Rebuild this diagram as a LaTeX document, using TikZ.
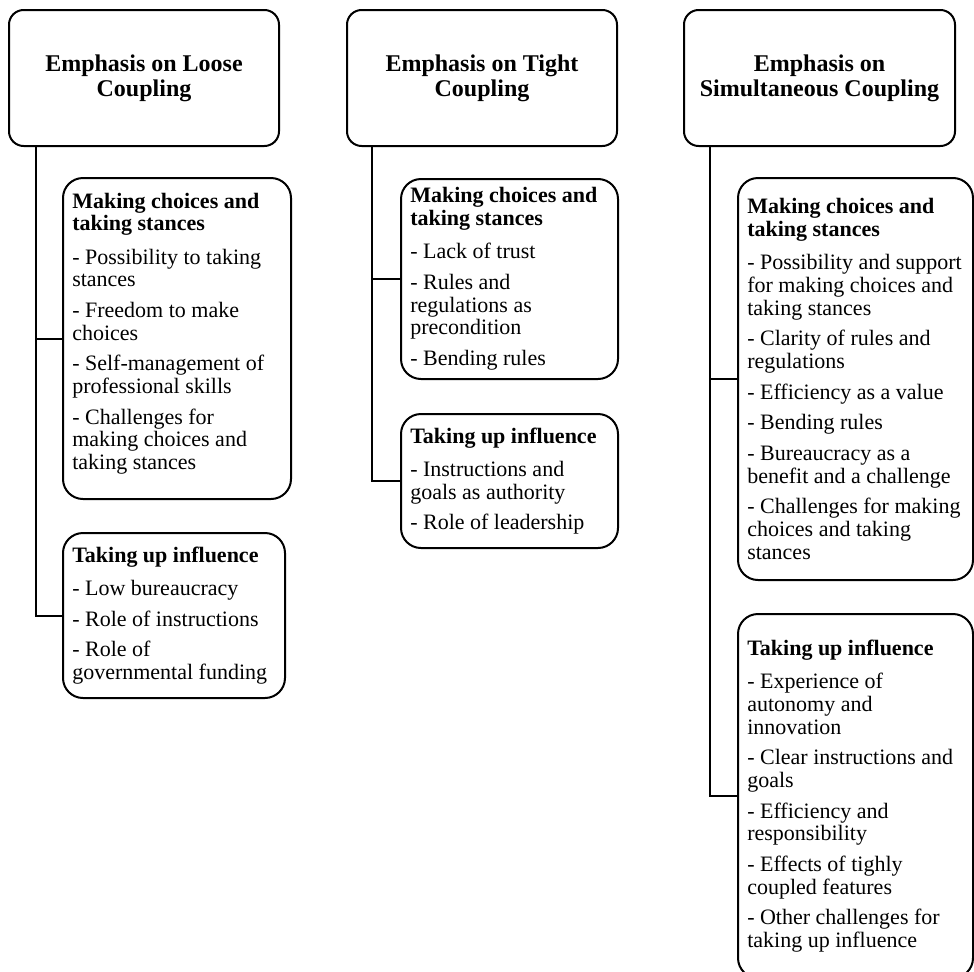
\documentclass[tikz,border=0pt]{standalone}
\usepackage{fontspec}
\setmainfont{Liberation Serif}
\usetikzlibrary{fit}

\tikzset{
    headbox/.style={draw, line width=1.5pt, rounded corners=11pt, inner sep=0pt},
    headtext/.style={inner sep=0pt, align=center, font=\fontsize{18}{19}\selectfont\bfseries},
    subbox/.style={draw, line width=1.5pt, rounded corners=15pt, inner sep=0pt},
    subtext/.style={anchor=west, inner sep=0pt, align=left, font=\fontsize{16.5}{17}\selectfont},
    trunk/.style={line width=1.5pt}
}

\begin{document}
\begin{tikzpicture}[x=0.75pt, y=-0.75pt]
            \useasboundingbox (0,0) rectangle (974,971);

            \node[headbox, fit={(9,10) (279,146)}] (h1) {};
            \node[headbox, fit={(347,10) (617,146)}] (h2) {};
            \node[headbox, fit={(684,10) (955,146)}] (h3) {};
            \node[headtext] (h1t) at (h1.center) {Emphasis on Loose\\Coupling};
            \node[headtext] (h2t) at (h2.center) {Emphasis on Tight\\Coupling};
            \node[headtext] (h3t) at (h3.center) {Emphasis on\\Simultaneous Coupling};

            \node[subbox, fit={(63,178) (291,499)}] (m1) {};
            \node[subbox, fit={(63,533) (285,698)}] (i1) {};
            \node[subbox, fit={(401,179) (618,379)}] (m2) {};
            \node[subbox, fit={(401,414) (618,548)}] (i2) {};
            \node[subbox, fit={(738,178) (973,580)}] (m3) {};
            \node[subbox, fit={(738,614) (973,978)}] (i3) {};

            \node[subtext] (m1t) at ([shift={(10,-5)}]m1.west) {\textbf{Making choices and}\\\textbf{taking stances}\\[8pt]
                - Possibility to taking\\stances\\[6pt]
                - Freedom to make\\choices\\[6pt]
                - Self-management of\\professional skills\\[6pt]
                - Challenges for\\making choices and\\taking stances};
            \node[subtext] (i1t) at ([shift={(10,0)}]i1.west) {\textbf{Taking up influence}\\[8pt]
                - Low bureaucracy\\[6pt]
                - Role of instructions\\[6pt]
                - Role of\\governmental funding};
            \node[subtext] (m2t) at ([shift={(10,0)}]m2.west) {\textbf{Making choices and}\\\textbf{taking stances}\\[8pt]
                - Lack of trust\\[6pt]
                - Rules and\\regulations as\\precondition\\[6pt]
                - Bending rules};
            \node[subtext] (i2t) at ([shift={(10,0)}]i2.west) {\textbf{Taking up influence}\\[8pt]
                - Instructions and\\goals as authority\\[6pt]
                - Role of leadership};
            \node[subtext] (m3t) at ([shift={(10,0)}]m3.west) {\textbf{Making choices and}\\\textbf{taking stances}\\[8pt]
                - Possibility and support\\for making choices and\\taking stances\\[6pt]
                - Clarity of rules and\\regulations\\[6pt]
                - Efficiency as a value\\[6pt]
                - Bending rules\\[6pt]
                - Bureaucracy as a\\benefit and a challenge\\[6pt]
                - Challenges for making\\choices and taking\\stances};
            \node[subtext] (i3t) at ([shift={(10,0)}]i3.west) {\textbf{Taking up influence}\\[8pt]
                - Experience of\\autonomy and\\innovation\\[6pt]
                - Clear instructions and\\goals\\[6pt]
                - Efficiency and\\responsibility\\[6pt]
                - Effects of tighly\\coupled features\\[6pt]
                - Other challenges for\\taking up influence};

            \coordinate (t1) at ([shift={(28,0)}]h1.south west);
            \coordinate (t2) at ([shift={(26,0)}]h2.south west);
            \coordinate (t3) at ([shift={(27,0)}]h3.south west);

            \draw[trunk] (t1) |- (m1.west);
            \draw[trunk] (t1) |- (i1.west);
            \draw[trunk] (t2) |- (m2.west);
            \draw[trunk] (t2) |- (i2.west);
            \draw[trunk] (t3) |- (m3.west);
            \draw[trunk] (t3) |- (i3.west);
        \end{tikzpicture}
\end{document}
